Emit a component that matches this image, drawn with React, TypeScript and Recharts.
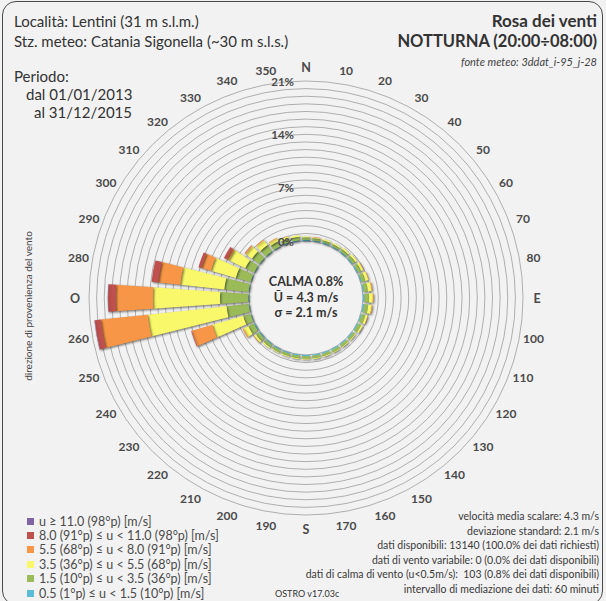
import React from "react";
import {
  RadialBarChart,
  RadialBar,
  PolarAngleAxis,
  PolarRadiusAxis,
  PolarGrid,
} from "recharts";

const FONT = "Lato, 'Open Sans', sans-serif";
const CX = 306;
const CY = 298;

// wind direction sectors, clockwise from north
const DIRECTIONS = [
  "N", "10", "20", "30", "40", "50", "60", "70", "80",
  "E", "100", "110", "120", "130", "140", "150", "160", "170",
  "S", "190", "200", "210", "220", "230", "240", "250", "260",
  "O", "280", "290", "300", "310", "320", "330", "340", "350",
];

// frequency (% of available hours) for each speed class, one value per sector
const U_05_15 = [
  0.15, 0.15, 0.15, 0.15, 0.15, 0.15, 0.15, 0.15, 0.15,
  0.2, 0.2, 0.15, 0.15, 0.15, 0.15, 0.15, 0.15, 0.15,
  0.15, 0.15, 0.15, 0.15, 0.15, 0.15, 0.15, 0.1, 0.1,
  0.1, 0.1, 0.1, 0.1, 0.1, 0.1, 0.1, 0.15, 0.15,
];
const U_15_35 = [
  0.35, 0.3, 0.3, 0.3, 0.35, 0.4, 0.45, 0.5, 0.55,
  0.6, 0.55, 0.5, 0.45, 0.35, 0.35, 0.35, 0.35, 0.35,
  0.35, 0.35, 0.35, 0.35, 0.4, 0.5, 0.8, 1.0, 2.9,
  3.7, 3.2, 2.0, 1.3, 1.2, 1.0, 0.7, 0.5, 0.45,
];
const U_35_55 = [
  0.1, 0.1, 0.15, 0.15, 0.2, 0.25, 0.3, 0.4, 0.5,
  0.5, 0.45, 0.3, 0.2, 0.1, 0.1, 0.1, 0.1, 0.1,
  0.1, 0.1, 0.1, 0.1, 0.15, 0.3, 0.7, 4.2, 10.4,
  8.8, 5.8, 3.4, 2.4, 1.0, 0.8, 0.4, 0.3, 0.2,
];
const U_55_80 = [
  0, 0.05, 0, 0, 0, 0, 0.05, 0.05, 0.1,
  0.1, 0.1, 0.05, 0, 0, 0, 0, 0, 0,
  0, 0, 0, 0, 0, 0.05, 0.15, 2.8, 6.2,
  4.9, 2.9, 1.3, 0.3, 0.15, 0.1, 0.1, 0.05, 0,
];
const U_80_110 = [
  0, 0, 0, 0, 0, 0, 0, 0, 0,
  0, 0, 0, 0, 0, 0, 0, 0, 0,
  0, 0, 0, 0, 0, 0, 0, 0.1, 0.8,
  1.0, 0.9, 0.4, 0.4, 0.05, 0, 0, 0, 0,
];
const U_110 = [
  0, 0, 0, 0, 0, 0, 0, 0, 0,
  0, 0, 0, 0, 0, 0, 0, 0, 0,
  0, 0, 0, 0, 0, 0, 0, 0, 0.05,
  0.05, 0, 0, 0, 0, 0, 0, 0, 0,
];

const RING_TICKS = [0, 1, 2, 3, 4, 5, 6, 7, 8, 9, 10, 11, 12, 13, 14, 15, 16, 17, 18, 19, 20, 21];

// inner to outer stacking order
const CLASS_KEYS = ["u1", "u2", "u3", "u4", "u5", "u6"];
const CLASS_VALUES = [U_05_15, U_15_35, U_35_55, U_55_80, U_80_110, U_110];
const CLASS_LABELS = [
  "0.5 (1°p) ≤ u < 1.5 (10°p) [m/s]",
  "1.5 (10°p) ≤ u < 3.5 (36°p) [m/s]",
  "3.5 (36°p) ≤ u < 5.5 (68°p) [m/s]",
  "5.5 (68°p) ≤ u < 8.0 (91°p) [m/s]",
  "8.0 (91°p) ≤ u < 11.0 (98°p) [m/s]",
  "u ≥ 11.0 (98°p) [m/s]",
];
const CLASS_COLORS = ["#5bbcd6", "#9bbb59", "#f8f86a", "#f79646", "#c0504d", "#8064a2"];

const STATS = [
  "velocità media scalare: 4.3 m/s",
  "deviazione standard: 2.1 m/s",
  "dati disponibili: 13140 (100.0% dei dati richiesti)",
  "dati di vento variabile: 0 (0.0% dei dati disponibili)",
  "dati di calma di vento (u<0.5m/s):  103 (0.8% dei dati disponibili)",
  "intervallo di mediazione dei dati: 60 minuti",
];

const rows = DIRECTIONS.map((dir, i) => {
  const row: Record<string, string | number> = { dir };
  CLASS_KEYS.forEach((k, j) => {
    row[k] = CLASS_VALUES[j][i];
  });
  return row;
});

// category ticks land on the sector edge; turn them half a sector so they sit on the bar axis
const AngleTick = (props: any) => {
  const { x, y, payload } = props;
  const a = Math.atan2(CY - y, x - CX) + (5 * Math.PI) / 180;
  const r = Math.hypot(x - CX, y - CY);
  const tx = CX + r * Math.cos(a);
  const ty = CY - r * Math.sin(a);
  const cardinal = String(payload.value).length === 1;
  return (
    <text
      x={tx}
      y={ty}
      textAnchor="middle"
      dominantBaseline="central"
      fill="#4a4a4a"
      fontSize={cardinal ? 12.5 : 12}
      fontWeight={700}
      fontFamily={FONT}
    >
      {payload.value}
    </text>
  );
};

const RingTick = (props: any) => {
  const { x, y, payload } = props;
  if (payload.value % 7 !== 0) return <g />;
  return (
    <text
      x={x - 12}
      y={y}
      textAnchor="end"
      dominantBaseline="central"
      fill="#4a4a4a"
      fontSize={11.5}
      fontWeight={700}
      fontFamily={FONT}
    >
      {payload.value + "%"}
    </text>
  );
};

const abs = (left: number, top: number): React.CSSProperties => ({
  position: "absolute",
  left,
  top,
  whiteSpace: "nowrap",
});

export default function App() {
  return (
    <div
      style={{
        position: "fixed",
        left: 0,
        top: 0,
        width: 606,
        height: 601,
        background: "#f2f2f2",
        fontFamily: FONT,
        color: "#333",
        overflow: "hidden",
      }}
    >
      <style>{`.rose path.recharts-sector { filter: drop-shadow(1px 1px 0.8px rgba(0,0,0,0.55)); }`}</style>
      <div
        style={{
          position: "absolute",
          left: 2,
          top: 1,
          width: 599,
          height: 602,
          border: "1.5px solid #4a4a4a",
          borderRadius: 14,
        }}
      />

      <div className="rose" style={{ position: "absolute", left: 0, top: 0 }}>
        <RadialBarChart
          width={606}
          height={601}
          data={rows}
          layout="centric"
          cx={CX}
          cy={CY}
          innerRadius={57}
          outerRadius={217}
          startAngle={85}
          endAngle={-275}
          margin={{ top: 0, right: 0, bottom: 0, left: 0 }}
        >
          <PolarGrid gridType="circle" radialLines={false} stroke="#a6a6a6" strokeWidth={0.9} />
          <PolarAngleAxis
            type="category"
            dataKey="dir"
            tickSize={14}
            tickLine={false}
            axisLine={false}
            tick={<AngleTick />}
          />
          {CLASS_KEYS.map((k, j) => (
            <RadialBar
              key={k}
              dataKey={k}
              stackId="speed"
              fill={CLASS_COLORS[j]}
              isAnimationActive={false}
            />
          ))}
          <PolarRadiusAxis
            type="number"
            domain={[0, 21]}
            ticks={RING_TICKS}
            tickCount={22}
            angle={90}
            axisLine={false}
            tickLine={false}
            tick={<RingTick />}
          />
        </RadialBarChart>
      </div>

      {/* calm circle summary */}
      <div
        style={{
          position: "absolute",
          left: 246,
          top: 274,
          width: 120,
          textAlign: "center",
          fontWeight: 700,
          fontSize: 12.5,
          lineHeight: "15.5px",
          color: "#333",
        }}
      >
        <div>CALMA 0.8%</div>
        <div>Ū = 4.3 m/s</div>
        <div>σ = 2.1 m/s</div>
      </div>

      <div style={{ ...abs(14, 12), fontSize: 15 }}>Località: Lentini (31 m s.l.m.)</div>
      <div style={{ ...abs(14, 32), fontSize: 15 }}>Stz. meteo: Catania Sigonella (~30 m s.l.s.)</div>
      <div style={{ ...abs(14, 67), fontSize: 15 }}>Periodo:</div>
      <div style={{ ...abs(26, 85), fontSize: 15 }}>dal 01/01/2013</div>
      <div style={{ ...abs(34, 103), fontSize: 15 }}>al 31/12/2015</div>

      <div style={{ position: "absolute", right: 9, top: 10, textAlign: "right", whiteSpace: "nowrap" }}>
        <div style={{ fontSize: 17, fontWeight: 700, lineHeight: "21px" }}>Rosa dei venti</div>
        <div style={{ fontSize: 16.5, fontWeight: 700, lineHeight: "21px" }}>NOTTURNA (20:00÷08:00)</div>
        <div style={{ fontSize: 11, fontStyle: "italic", lineHeight: "19px", color: "#444" }}>
          fonte meteo: 3ddat_i-95_j-28
        </div>
      </div>

      <div
        style={{
          position: "absolute",
          left: 28,
          top: 306,
          transform: "translate(-50%, -50%) rotate(-90deg)",
          fontSize: 10,
          color: "#444",
          whiteSpace: "nowrap",
        }}
      >
        direzione di provenienza del vento
      </div>

      {/* speed class legend, fastest first */}
      <div style={{ position: "absolute", left: 27, top: 514 }}>
        {CLASS_LABELS.map((_, i) => CLASS_LABELS.length - 1 - i).map((j) => (
          <div
            key={j}
            style={{ display: "flex", alignItems: "center", height: 14.4, fontSize: 12.5, color: "#4a4a4a" }}
          >
            <span style={{ width: 7, height: 7, background: CLASS_COLORS[j], marginRight: 5 }} />
            {CLASS_LABELS[j]}
          </div>
        ))}
      </div>

      <div style={{ ...abs(275, 588), fontSize: 9, color: "#333" }}>OSTRO v17.03c</div>

      <div style={{ position: "absolute", right: 7, top: 509, textAlign: "right" }}>
        {STATS.map((s) => (
          <div key={s} style={{ fontSize: 10.5, lineHeight: "14.6px", color: "#3a3a3a", whiteSpace: "pre" }}>
            {s}
          </div>
        ))}
      </div>
    </div>
  );
}
